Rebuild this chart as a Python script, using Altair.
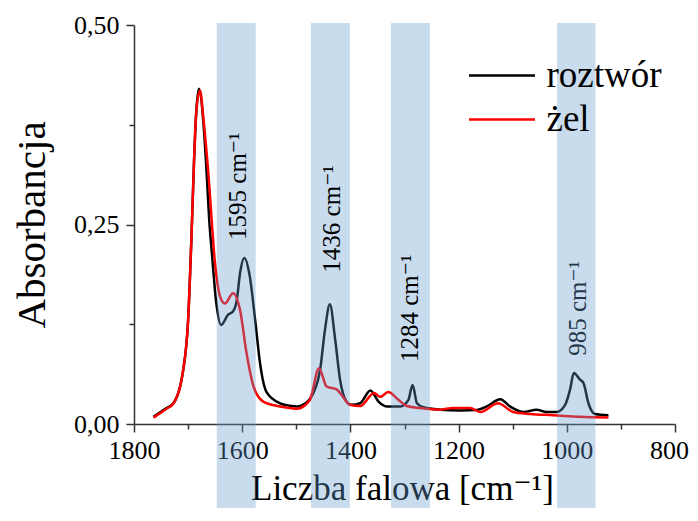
import altair as alt
import pandas as pd

# ---- data ----
wn_roztwor = [1764, 1740, 1727, 1709, 1700, 1694, 1689, 1685, 1680, 1672, 1666, 1661, 1656,
              1648, 1639, 1626, 1617, 1610, 1604, 1596, 1586, 1576, 1567, 1555, 1530, 1512,
              1499, 1481, 1469, 1456, 1447, 1438, 1428, 1419, 1407, 1398, 1382, 1363, 1348,
              1333, 1308, 1293, 1285, 1277, 1265, 1234, 1197, 1167, 1148, 1123, 1105, 1080,
              1056, 1037, 1019, 1003, 994, 987, 976, 969, 960, 948, 923]
ab_roztwor = [0.009, 0.020, 0.026, 0.068, 0.13, 0.23, 0.33, 0.39, 0.42, 0.38, 0.318, 0.256, 0.214,
              0.152, 0.124, 0.137, 0.141, 0.155, 0.189, 0.208, 0.185, 0.130, 0.076, 0.040, 0.026, 0.023,
              0.022, 0.027, 0.038, 0.068, 0.118, 0.150, 0.105, 0.055, 0.028, 0.024, 0.026, 0.042, 0.028,
              0.022, 0.022, 0.030, 0.049, 0.026, 0.021, 0.018, 0.017, 0.0175, 0.022, 0.031, 0.022, 0.015,
              0.018, 0.015, 0.015, 0.024, 0.043, 0.064, 0.056, 0.051, 0.026, 0.0125, 0.011]

wn_zel = [1764, 1740, 1727, 1709, 1700, 1694, 1689, 1685, 1678, 1672, 1663, 1650, 1641, 1632,
          1617, 1604, 1592, 1579, 1561, 1530, 1512, 1499, 1475, 1458, 1444, 1425, 1416, 1401,
          1382, 1356, 1345, 1330, 1314, 1296, 1271, 1234, 1210, 1179, 1160, 1127, 1099, 1068,
          1025, 976, 923]
ab_zel = [0.008, 0.019, 0.026, 0.068, 0.13, 0.23, 0.33, 0.39, 0.418, 0.385, 0.318, 0.20, 0.16, 0.151,
          0.164, 0.143, 0.089, 0.047, 0.028, 0.022, 0.020, 0.019, 0.030, 0.070, 0.047, 0.043, 0.036, 0.024,
          0.0225, 0.039, 0.034, 0.040, 0.032, 0.0225, 0.020, 0.018, 0.020, 0.020, 0.015, 0.026, 0.015, 0.0125,
          0.011, 0.009, 0.008]

series_names = ["roztwór", "żel"]
series_colors = ["#000000", "#ff0000"]

band_start = [1647, 1473, 1325, 1018]
band_end = [1575, 1401, 1253, 947]

peak_labels = ["1595 cm⁻¹", "1436 cm⁻¹", "1284 cm⁻¹", "985 cm⁻¹"]
peak_label_x = [1608, 1434, 1290, 980]
peak_label_y = [0.298, 0.257, 0.145, 0.145]

x_ticks = list(range(800, 1801, 100))
y_ticks = [0, 0.125, 0.25, 0.375, 0.5]

FONT = "'Liberation Serif', 'Times New Roman', Tinos, 'DejaVu Serif', serif"

lines_df = pd.concat([
    pd.DataFrame({"wn": wn_roztwor, "ab": ab_roztwor, "seria": series_names[0], "o": range(len(wn_roztwor))}),
    pd.DataFrame({"wn": wn_zel, "ab": ab_zel, "seria": series_names[1], "o": range(len(wn_zel))}),
])
bands_df = pd.DataFrame({"x1": band_start, "x2": band_end})
labels_df = pd.DataFrame({"t": peak_labels, "x": peak_label_x, "y": peak_label_y})

x_scale = alt.Scale(domain=[800, 1800], reverse=True, nice=False, zero=False)
y_scale = alt.Scale(domain=[0, 0.5], nice=False)

x_axis = alt.Axis(
    values=x_ticks, format="d",
    labelExpr="datum.value % 200 === 0 ? datum.label : ''",
    tickSize={"condition": {"test": "datum.value % 200 === 0", "value": 8}, "value": 5},
    labelOffset={"condition": {"test": "datum.value === 800", "value": -6}, "value": 0},
    labelPadding=5, labelFont=FONT, labelFontSize=26, labelColor="black", labelFlush=False,
    domainColor="#333333", domainWidth=1.5, tickColor="#333333", tickWidth=1.5, grid=False,
    title="Liczba falowa [cm⁻¹]", titleFont=FONT, titleFontSize=35, titleFontWeight="normal",
    titleColor="black", titleX=268, titleY=75, titleAlign="center", titleBaseline="alphabetic",
    zindex=0,
)
y_axis = alt.Axis(
    values=y_ticks,
    labelExpr="(datum.value * 100) % 25 === 0 ? replace(format(datum.value, '.2f'), '.', ',') : ''",
    tickSize={"condition": {"test": "(datum.value * 100) % 25 === 0", "value": 8}, "value": 5},
    labelPadding=7, labelFont=FONT, labelFontSize=26, labelColor="black",
    domainColor="#333333", domainWidth=1.5, tickColor="#333333", tickWidth=1.5, grid=False,
    title="Absorbancja", titleFont=FONT, titleFontSize=41, titleFontWeight="normal",
    titleColor="black", titleX=-102, titleY=199.5, titleAngle=270, titleAlign="center",
    titleBaseline="middle", zindex=0,
)

lines = alt.Chart(lines_df).mark_line(strokeWidth=2.5, interpolate="monotone").encode(
    x=alt.X("wn:Q", scale=x_scale, axis=x_axis),
    y=alt.Y("ab:Q", scale=y_scale, axis=y_axis),
    color=alt.Color("seria:N", scale=alt.Scale(domain=series_names, range=series_colors),
                    legend=alt.Legend(
                        orient="none", legendX=349.5, legendY=32, title=None,
                        symbolType="M-2,0H2", symbolSize=1089, symbolStrokeWidth=2.5,
                        labelFont=FONT, labelFontSize=37, labelColor="black",
                        labelOffset=26, rowPadding=6, padding=0, zindex=0)),
    order="o:Q",
)

labels_top = alt.Chart(labels_df[labels_df.x > 1000]).mark_text(
    angle=270, font=FONT, fontSize=25, color="black", align="center", baseline="middle"
).encode(x=alt.X("x:Q", scale=x_scale), y=alt.Y("y:Q", scale=y_scale), text="t:N")

labels_under = alt.Chart(labels_df[labels_df.x < 1000]).mark_text(
    angle=270, font=FONT, fontSize=25, color="black", align="center", baseline="middle"
).encode(x=alt.X("x:Q", scale=x_scale), y=alt.Y("y:Q", scale=y_scale), text="t:N")

bands = alt.Chart(bands_df).mark_rect(color="#659bce", opacity=0.35).encode(
    x=alt.X("x1:Q", scale=x_scale),
    x2="x2:Q",
    y=alt.value(-2),
    y2=alt.value(500),
)

chart = alt.layer(lines, labels_under, bands, labels_top).properties(
    width=541, height=399,
    autosize=alt.AutoSizeParams(type="none"),
    padding={"left": 126, "top": 17, "right": 15, "bottom": 84},
).configure_view(stroke=None)

chart.save("out.html", embed_options={"renderer": "svg", "actions": False})
